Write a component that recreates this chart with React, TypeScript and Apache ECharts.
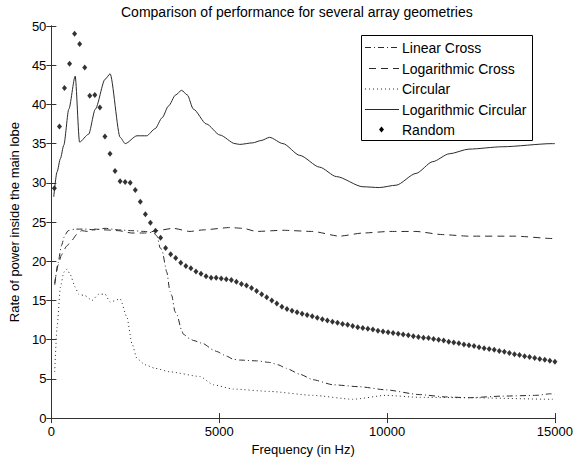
import React, { useEffect, useRef } from "react";
import * as echarts from "echarts";

const FONT = '"Liberation Sans", Arial, Helvetica, sans-serif';

const chartTitle = "Comparison of performance for several array geometries";
const xAxisName = "Frequency (in Hz)";
const yAxisName = "Rate of power inside the main lobe";
const legendNames = ["Linear Cross", "Logarithmic Cross", "Circular", "Logarithmic Circular", "Random"];

const linearCrossHz = [100, 200, 300, 400, 500, 700, 1000, 1300, 1600, 2000, 2400, 2800, 3050, 3150, 3240, 3290, 3440, 3530, 3590, 3680, 3740, 3880, 3930, 4130, 4230, 4520, 4820, 4920, 5220, 5420, 5610, 6110, 6500, 6750, 7000, 7400, 7790, 8390, 9180, 9970, 10960, 11750, 12440, 13430, 14430, 14870, 15000];
const linearCrossVal = [17.0, 19.8, 22.0, 23.3, 23.9, 24.1, 24.1, 24.0, 24.2, 24.0, 23.9, 23.8, 23.6, 23.2, 21.7, 21.5, 18.6, 16.2, 15.6, 13.6, 13.2, 11.2, 10.7, 10.1, 9.9, 9.5, 8.7, 8.5, 7.9, 7.5, 7.4, 7.3, 7.1, 6.8, 6.35, 5.6, 4.9, 4.25, 4.0, 3.6, 3.0, 2.7, 2.6, 2.8, 2.9, 3.1, 3.0];

const logCrossHz = [100, 200, 300, 450, 600, 750, 900, 1100, 1300, 1600, 2000, 2400, 2800, 3140, 3630, 4130, 4520, 5320, 5710, 6110, 6900, 7790, 8580, 9280, 10070, 10860, 11650, 12440, 13830, 14920, 15000];
const logCrossVal = [17.2, 19.5, 20.8, 21.9, 22.6, 23.4, 23.9, 23.8, 24.1, 24.0, 23.9, 23.6, 23.6, 23.9, 24.2, 23.8, 24.0, 24.3, 24.2, 23.8, 23.95, 23.8, 23.2, 23.6, 23.8, 23.8, 23.4, 23.2, 23.2, 22.9, 22.9];

const circularHz = [100, 170, 270, 370, 470, 560, 710, 810, 1010, 1210, 1410, 1600, 1750, 2050, 2250, 2400, 2550, 2790, 3090, 3530, 4430, 4820, 5420, 6500, 7790, 8980, 9970, 10960, 12440, 14920, 15000];
const circularVal = [5.9, 11.6, 16.7, 18.6, 19.0, 18.3, 16.7, 15.8, 15.6, 15.0, 15.8, 15.8, 14.8, 15.2, 12.9, 9.5, 7.6, 6.8, 6.35, 5.9, 5.3, 4.25, 3.7, 3.4, 2.9, 2.4, 2.9, 2.65, 2.6, 2.4, 2.4];

const logCircularHz = [70, 170, 270, 370, 520, 710, 840, 1110, 1310, 1600, 1750, 2050, 2200, 2550, 2840, 3090, 3300, 3490, 3700, 3880, 4050, 4230, 4620, 5020, 5470, 5610, 6000, 6250, 6500, 6900, 7400, 7990, 8490, 9280, 9770, 10270, 10860, 11360, 11850, 12440, 13430, 14920, 15000];
const logCircularVal = [28.2, 31.4, 33.1, 34.8, 39.4, 43.6, 35.2, 36.2, 39.4, 43.2, 43.9, 35.8, 35.0, 36.0, 36.0, 36.9, 38.3, 39.8, 41.2, 41.8, 41.2, 39.4, 37.5, 36.1, 35.0, 34.9, 35.1, 35.4, 35.8, 35.0, 33.5, 32.0, 30.8, 29.5, 29.4, 29.7, 31.2, 32.7, 33.7, 34.3, 34.6, 35.0, 35.0];

const randomHz = [90, 241, 391, 542, 692, 843, 994, 1144, 1295, 1445, 1596, 1747, 1897, 2048, 2198, 2349, 2500, 2650, 2801, 2951, 3102, 3253, 3403, 3554, 3704, 3855, 4006, 4156, 4307, 4457, 4608, 4759, 4909, 5060, 5210, 5361, 5512, 5662, 5813, 5963, 6114, 6265, 6415, 6566, 6716, 6867, 7018, 7168, 7319, 7469, 7620, 7771, 7921, 8072, 8222, 8373, 8524, 8674, 8825, 8975, 9126, 9277, 9427, 9578, 9728, 9879, 10030, 10180, 10331, 10481, 10632, 10783, 10933, 11084, 11234, 11385, 11536, 11686, 11837, 11987, 12138, 12289, 12439, 12590, 12740, 12891, 13042, 13192, 13343, 13493, 13644, 13795, 13945, 14096, 14246, 14397, 14548, 14698, 14849, 15000];
const randomVal = [29.3, 37.2, 42.1, 45.2, 49.0, 47.7, 44.7, 41.1, 41.2, 39.6, 35.9, 33.7, 31.5, 30.2, 30.1, 30.0, 29.1, 27.6, 26.0, 24.9, 23.9, 23.0, 21.7, 20.9, 20.4, 19.8, 19.4, 19.1, 18.7, 18.4, 18.1, 17.9, 17.9, 17.8, 17.7, 17.6, 17.4, 17.1, 16.9, 16.6, 16.2, 15.8, 15.4, 15.0, 14.6, 14.2, 13.9, 13.7, 13.5, 13.3, 13.15, 13.0, 12.8, 12.6, 12.45, 12.3, 12.15, 12.0, 11.9, 11.75, 11.6, 11.5, 11.4, 11.3, 11.15, 11.05, 10.95, 10.85, 10.75, 10.65, 10.55, 10.45, 10.35, 10.25, 10.2, 10.1, 10.0, 9.9, 9.75, 9.65, 9.55, 9.4, 9.3, 9.2, 9.05, 8.9, 8.8, 8.7, 8.55, 8.45, 8.3, 8.15, 8.05, 7.9, 7.8, 7.65, 7.55, 7.45, 7.3, 7.2];

const zip = (xs: number[], ys: number[]) => xs.map((x, i) => [x, ys[i]]);

export default function App() {
  const ref = useRef<HTMLDivElement>(null);
  useEffect(() => {
    if (!ref.current) return;
    const chart = echarts.init(ref.current, undefined, { renderer: "svg" });
    const axisColor = "#333";
    const lineColor = "#2a2a2a";
    const tickStyle = { show: true, inside: true, length: 5, lineStyle: { color: axisColor, width: 1 } };
    const labelStyle = { color: "#000", fontSize: 13, fontFamily: FONT, formatter: (v: number) => String(v) };

    const rowY = [47.5, 68.5, 89, 109.5, 129.5];
    const legendDashes: (number[] | null)[] = [[6, 3, 1, 3], [7, 5], [1, 3], null];
    const legendGraphics: any[] = [
      {
        type: "rect",
        shape: { x: 361.5, y: 35.5, width: 171, height: 105 },
        style: { fill: "#fff", stroke: "#000", lineWidth: 1 },
        z: 100,
      },
    ];
    legendNames.forEach((name, i) => {
      if (i < 4) {
        legendGraphics.push({
          type: "line",
          shape: { x1: i === 1 ? 369 : 365, y1: rowY[i], x2: 399, y2: rowY[i] },
          style: { stroke: lineColor, lineWidth: 1, lineDash: legendDashes[i] || undefined },
          z: 101,
        });
      } else {
        legendGraphics.push({
          type: "polygon",
          shape: { points: [[381.5, rowY[i] - 3], [384, rowY[i]], [381.5, rowY[i] + 3], [379, rowY[i]]] },
          style: { fill: "#000" },
          z: 101,
        });
      }
      legendGraphics.push({
        type: "text",
        x: 402,
        y: rowY[i],
        style: { text: name, fill: "#000", fontSize: 14, fontFamily: FONT, verticalAlign: "middle", align: "left" },
        z: 101,
      });
    });

    const lineSeries = (name: string, data: number[][], dash: number[] | "solid", smooth: number) => ({
      name,
      type: "line",
      data,
      xAxisIndex: 0,
      yAxisIndex: 0,
      showSymbol: false,
      symbol: "none",
      smooth,
      smoothMonotone: "x",
      lineStyle: { color: lineColor, width: 1, type: dash },
      itemStyle: { color: lineColor },
      silent: true,
    });

    chart.setOption({
      animation: false,
      backgroundColor: "#fff",
      title: {
        text: chartTitle,
        left: 121,
        top: 5,
        padding: 0,
        textStyle: { color: "#000", fontSize: 14, fontWeight: "normal", fontFamily: FONT },
      },
      grid: { left: 51, right: 20, top: 26, bottom: 39, containLabel: false },
      xAxis: [
        {
          type: "value",
          position: "bottom",
          min: 0,
          max: 15000,
          interval: 5000,
          axisLine: { show: true, lineStyle: { color: axisColor, width: 1 } },
          axisTick: tickStyle,
          axisLabel: { ...labelStyle, margin: 7 },
          splitLine: { show: false },
          name: xAxisName,
          nameLocation: "middle",
          nameGap: 23,
          nameTextStyle: { color: "#000", fontSize: 13, fontFamily: FONT },
        },
        {
          type: "value",
          position: "top",
          min: 0,
          max: 15000,
          interval: 5000,
          axisLine: { show: true, lineStyle: { color: axisColor, width: 1 } },
          axisTick: tickStyle,
          axisLabel: { show: false },
          splitLine: { show: false },
        },
      ],
      yAxis: [
        {
          type: "value",
          position: "left",
          min: 0,
          max: 50,
          interval: 5,
          axisLine: { show: true, lineStyle: { color: axisColor, width: 1 } },
          axisTick: tickStyle,
          axisLabel: { ...labelStyle, margin: 5 },
          splitLine: { show: false },
          name: yAxisName,
          nameLocation: "middle",
          nameGap: 26,
          nameRotate: 90,
          nameTextStyle: { color: "#000", fontSize: 13, fontFamily: FONT },
        },
        {
          type: "value",
          position: "right",
          min: 0,
          max: 50,
          interval: 5,
          axisLine: { show: true, lineStyle: { color: axisColor, width: 1 } },
          axisTick: tickStyle,
          axisLabel: { show: false },
          splitLine: { show: false },
        },
      ],
      series: [
        lineSeries(legendNames[0], zip(linearCrossHz, linearCrossVal), [6, 3, 1, 3], 0.2),
        lineSeries(legendNames[1], zip(logCrossHz, logCrossVal), [7, 5], 0.2),
        lineSeries(legendNames[2], zip(circularHz, circularVal), [1, 3], 0.2),
        lineSeries(legendNames[3], zip(logCircularHz, logCircularVal), "solid", 0.25),
        {
          name: legendNames[4],
          type: "scatter",
          data: zip(randomHz, randomVal),
          xAxisIndex: 0,
          yAxisIndex: 0,
          symbol: "diamond",
          symbolSize: [5, 6],
          itemStyle: { color: "#000" },
          silent: true,
        },
      ],
      graphic: legendGraphics,
    });
    return () => chart.dispose();
  }, []);
  return (
    <div
      ref={ref}
      style={{ position: "absolute", left: 0, top: 0, width: 576, height: 461, background: "#fff" }}
    />
  );
}
